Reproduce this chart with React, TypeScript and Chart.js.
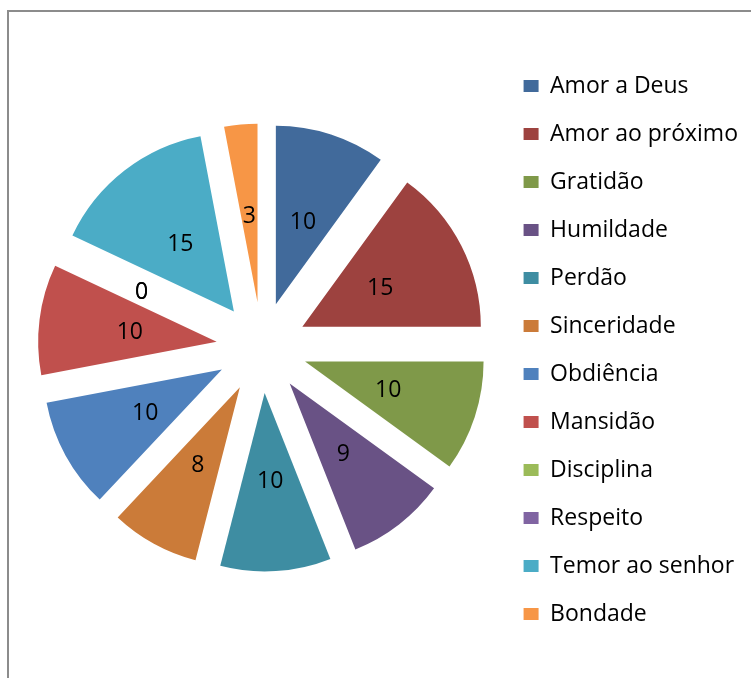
import React, { useEffect, useRef } from "react";
import { Chart, registerables } from "chart.js";

Chart.register(...registerables);

const categories = [
  "Amor a Deus",
  "Amor ao próximo",
  "Gratidão",
  "Humildade",
  "Perdão",
  "Sinceridade",
  "Obdiência",
  "Mansidão",
  "Disciplina",
  "Respeito",
  "Temor ao senhor",
  "Bondade",
];
const values = [10, 15, 10, 9, 10, 8, 10, 10, 0, 0, 15, 3];
const colors = [
  "#416A9B",
  "#9D423F",
  "#7F9949",
  "#695285",
  "#3E8DA2",
  "#CB7B39",
  "#4F81BD",
  "#C0504D",
  "#9BBB59",
  "#8064A2",
  "#4BACC6",
  "#F79646",
];

const EXPLODE = 45.5;
const RADIUS = 178.5;
const LABEL_FRACTION = 0.49;
const LABEL_SIZE = 23;
const FONT = '"Open Sans", "Noto Sans", sans-serif';

const explodePlugin = {
  id: "explodeSlices",
  afterDatasetsUpdate(chart: any) {
    const meta = chart.getDatasetMeta(0);
    meta.data.forEach((arc: any) => {
      const mid = (arc.startAngle + arc.endAngle) / 2;
      arc.x += Math.cos(mid) * EXPLODE;
      arc.y += Math.sin(mid) * EXPLODE;
    });
  },
};

const valueLabelPlugin = {
  id: "valueLabels",
  afterDatasetsDraw(chart: any) {
    const ctx = chart.ctx;
    const meta = chart.getDatasetMeta(0);
    ctx.save();
    ctx.font = `${LABEL_SIZE}px ${FONT}`;
    ctx.fillStyle = "#000";
    ctx.textAlign = "center";
    ctx.textBaseline = "alphabetic";
    meta.data.forEach((arc: any, i: number) => {
      const mid = (arc.startAngle + arc.endAngle) / 2;
      const rr = arc.outerRadius * LABEL_FRACTION;
      const x = arc.x + Math.cos(mid) * rr;
      const y = arc.y + Math.sin(mid) * rr + LABEL_SIZE * 0.357;
      ctx.fillText(String(values[i]), x, y);
    });
    ctx.restore();
  },
};

export default function App() {
  const canvasRef = useRef<HTMLCanvasElement | null>(null);

  useEffect(() => {
    let chart: Chart | null = null;
    let cancelled = false;
    const create = () => {
      if (cancelled || !canvasRef.current) return;
      chart = new Chart(canvasRef.current, {
        type: "pie",
        data: {
          labels: categories,
          datasets: [
            {
              data: values,
              backgroundColor: colors,
              borderWidth: 0,
            },
          ],
        },
        options: {
          responsive: false,
          animation: false,
          radius: RADIUS,
          layout: { padding: { left: 25, top: 17, bottom: 0, right: 3 } },
          plugins: {
            tooltip: { enabled: false },
            legend: {
              position: "right",
              title: {
                display: true,
                text: " ",
                padding: 0,
                font: { family: FONT, size: 5, lineHeight: 1 },
              },
              labels: {
                boxWidth: 15,
                boxHeight: 12,
                padding: 25,
                color: "#000",
                font: { family: FONT, size: 23 },
              },
            },
          },
        } as any,
        plugins: [explodePlugin, valueLabelPlugin],
      });
    };
    const fontsReady = (document as any).fonts
      ? Promise.all([
          (document as any).fonts.load(`23px "Open Sans"`),
          (document as any).fonts.load(`22px "Open Sans"`),
        ]).catch(() => null)
      : Promise.resolve(null);
    fontsReady.then(create);
    return () => {
      cancelled = true;
      if (chart) chart.destroy();
    };
  }, []);

  return (
    <div style={{ position: "fixed", inset: 0, overflow: "hidden", background: "#fff" }}>
      <div
        style={{
          position: "absolute",
          left: 7,
          top: 10,
          width: 900,
          height: 900,
          borderLeft: "2px solid #8c8c8c",
          borderTop: "2px solid #8c8c8c",
        }}
      />
      <canvas
        ref={canvasRef}
        width={751}
        height={678}
        style={{ position: "absolute", left: 0, top: 0, width: 751, height: 678 }}
      />
    </div>
  );
}
